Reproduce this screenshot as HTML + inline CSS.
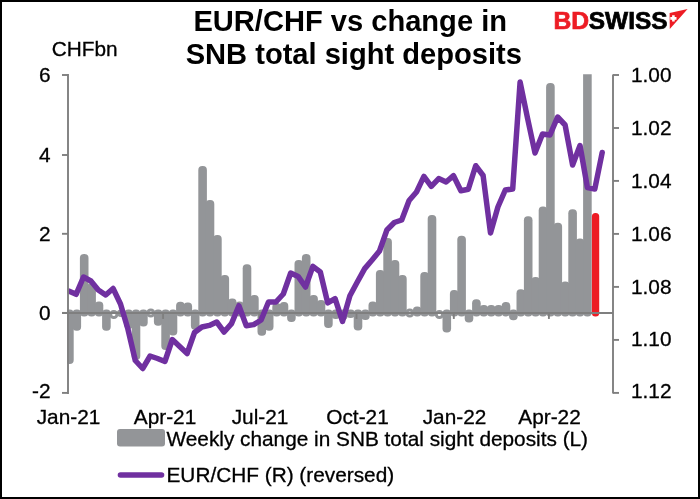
<!DOCTYPE html>
<html><head><meta charset="utf-8"><title>EUR/CHF vs change in SNB total sight deposits</title>
<style>
html,body{margin:0;padding:0;background:#fff}
body{width:700px;height:499px;overflow:hidden;font-family:"Liberation Sans",sans-serif}
svg{display:block;will-change:transform}
text{font-family:"Liberation Sans",sans-serif}
</style></head><body>
<svg width="700" height="499" viewBox="0 0 700 499">
<defs><clipPath id="pc"><rect x="67.2" y="74.2" width="546" height="320"/></clipPath></defs>
<rect x="0" y="0" width="700" height="499" fill="#000"/>
<rect x="2" y="2" width="696" height="495" fill="#fff"/>
<g font-size="29.1" font-weight="bold" fill="#000" text-anchor="middle">
<text x="350.2" y="30.5">EUR/CHF vs change in</text>
<text x="353.8" y="64.3">SNB total sight deposits</text>
</g>
<g font-size="23.5" font-weight="bold" stroke-width="0.7">
<text transform="translate(553.5,29.4) scale(1.05,1)" fill="#ED1C24" stroke="#ED1C24">BD</text>
<text transform="translate(588.8,29.4) scale(1.04,1)" fill="#000" stroke="#000">SWISS</text>
</g>
<path d="M669.6 12.9 L687.6 9 L669.8 29.1 Z" fill="#ED1C24"/>
<path d="M672.1 15.3 h2.6 v1.8 h1.8 v2.6 h-1.8 v1.8 h-2.6 v-1.8 h-1.8 v-2.6 h1.8 z" fill="#fff"/>
<g clip-path="url(#pc)">
<rect x="65.10" y="309.45" width="8.6" height="54.55" rx="4" fill="#939598"/>
<rect x="72.50" y="309.45" width="8.6" height="21.25" rx="4" fill="#939598"/>
<rect x="79.90" y="254.00" width="8.6" height="62.45" rx="4" fill="#939598"/>
<rect x="87.30" y="283.00" width="8.6" height="33.45" rx="4" fill="#939598"/>
<rect x="94.70" y="301.50" width="8.6" height="14.95" rx="4" fill="#939598"/>
<rect x="102.10" y="309.45" width="8.6" height="21.25" rx="4" fill="#939598"/>
<rect x="110.70" y="311.45" width="6.199999999999999" height="6.0" rx="3" fill="#fff" stroke="#939598" stroke-width="3.0"/>
<rect x="116.90" y="309.45" width="8.6" height="7.55" rx="4" fill="#939598"/>
<rect x="124.30" y="309.45" width="8.6" height="19.55" rx="4" fill="#939598"/>
<rect x="131.70" y="309.45" width="8.6" height="50.55" rx="4" fill="#939598"/>
<rect x="139.10" y="309.45" width="8.6" height="16.95" rx="4" fill="#939598"/>
<rect x="147.70" y="309.95" width="6.199999999999999" height="6.0" rx="3" fill="#fff" stroke="#939598" stroke-width="3.0"/>
<rect x="153.90" y="309.45" width="8.6" height="16.25" rx="4" fill="#939598"/>
<rect x="161.30" y="309.45" width="8.6" height="40.55" rx="4" fill="#939598"/>
<rect x="168.70" y="309.45" width="8.6" height="26.05" rx="4" fill="#939598"/>
<rect x="176.10" y="301.70" width="8.6" height="14.75" rx="4" fill="#939598"/>
<rect x="183.50" y="302.60" width="8.6" height="13.85" rx="4" fill="#939598"/>
<rect x="190.90" y="309.45" width="8.6" height="20.25" rx="4" fill="#939598"/>
<rect x="198.30" y="166.00" width="8.6" height="150.45" rx="4" fill="#939598"/>
<rect x="205.70" y="200.00" width="8.6" height="116.45" rx="4" fill="#939598"/>
<rect x="213.10" y="235.00" width="8.6" height="81.45" rx="4" fill="#939598"/>
<rect x="220.50" y="275.00" width="8.6" height="41.45" rx="4" fill="#939598"/>
<rect x="227.90" y="298.50" width="8.6" height="17.95" rx="4" fill="#939598"/>
<rect x="235.30" y="301.40" width="8.6" height="15.05" rx="4" fill="#939598"/>
<rect x="242.70" y="264.30" width="8.6" height="52.15" rx="4" fill="#939598"/>
<rect x="250.10" y="295.00" width="8.6" height="21.45" rx="4" fill="#939598"/>
<rect x="257.50" y="309.45" width="8.6" height="26.25" rx="4" fill="#939598"/>
<rect x="264.90" y="309.45" width="8.6" height="21.25" rx="4" fill="#939598"/>
<rect x="272.30" y="303.00" width="8.6" height="13.45" rx="4" fill="#939598"/>
<rect x="279.70" y="302.00" width="8.6" height="14.45" rx="4" fill="#939598"/>
<rect x="287.10" y="309.45" width="8.6" height="12.55" rx="4" fill="#939598"/>
<rect x="294.50" y="260.00" width="8.6" height="56.45" rx="4" fill="#939598"/>
<rect x="301.90" y="254.00" width="8.6" height="62.45" rx="4" fill="#939598"/>
<rect x="309.30" y="295.00" width="8.6" height="21.45" rx="4" fill="#939598"/>
<rect x="316.70" y="300.00" width="8.6" height="16.45" rx="4" fill="#939598"/>
<rect x="324.10" y="309.45" width="8.6" height="18.55" rx="4" fill="#939598"/>
<rect x="331.50" y="309.45" width="8.6" height="9.55" rx="4" fill="#939598"/>
<rect x="338.90" y="309.45" width="8.6" height="10.55" rx="4" fill="#939598"/>
<rect x="346.30" y="309.45" width="8.6" height="8.55" rx="4" fill="#939598"/>
<rect x="353.70" y="309.45" width="8.6" height="20.95" rx="4" fill="#939598"/>
<rect x="361.10" y="309.45" width="8.6" height="10.55" rx="4" fill="#939598"/>
<rect x="368.50" y="301.40" width="8.6" height="15.05" rx="4" fill="#939598"/>
<rect x="375.90" y="270.00" width="8.6" height="46.45" rx="4" fill="#939598"/>
<rect x="383.30" y="238.00" width="8.6" height="78.45" rx="4" fill="#939598"/>
<rect x="390.70" y="260.00" width="8.6" height="56.45" rx="4" fill="#939598"/>
<rect x="398.10" y="275.00" width="8.6" height="41.45" rx="4" fill="#939598"/>
<rect x="406.70" y="309.95" width="6.199999999999999" height="6.0" rx="3" fill="#fff" stroke="#939598" stroke-width="3.0"/>
<rect x="412.90" y="306.40" width="8.6" height="10.05" rx="4" fill="#939598"/>
<rect x="420.30" y="272.00" width="8.6" height="44.45" rx="4" fill="#939598"/>
<rect x="427.70" y="215.00" width="8.6" height="101.45" rx="4" fill="#939598"/>
<rect x="436.30" y="311.45" width="6.199999999999999" height="6.0" rx="3" fill="#fff" stroke="#939598" stroke-width="3.0"/>
<rect x="442.50" y="309.45" width="8.6" height="23.05" rx="4" fill="#939598"/>
<rect x="449.90" y="290.00" width="8.6" height="26.45" rx="4" fill="#939598"/>
<rect x="457.30" y="235.70" width="8.6" height="80.75" rx="4" fill="#939598"/>
<rect x="464.70" y="309.45" width="8.6" height="13.05" rx="4" fill="#939598"/>
<rect x="472.10" y="299.30" width="8.6" height="17.15" rx="4" fill="#939598"/>
<rect x="479.50" y="305.00" width="8.6" height="11.45" rx="4" fill="#939598"/>
<rect x="486.90" y="305.00" width="8.6" height="11.45" rx="4" fill="#939598"/>
<rect x="494.30" y="305.00" width="8.6" height="11.45" rx="4" fill="#939598"/>
<rect x="501.70" y="302.00" width="8.6" height="14.45" rx="4" fill="#939598"/>
<rect x="509.10" y="309.45" width="8.6" height="10.85" rx="4" fill="#939598"/>
<rect x="516.50" y="289.30" width="8.6" height="27.15" rx="4" fill="#939598"/>
<rect x="523.90" y="216.20" width="8.6" height="100.25" rx="4" fill="#939598"/>
<rect x="531.30" y="277.00" width="8.6" height="39.45" rx="4" fill="#939598"/>
<rect x="538.70" y="206.40" width="8.6" height="110.05" rx="4" fill="#939598"/>
<rect x="546.10" y="83.00" width="8.6" height="233.45" rx="4" fill="#939598"/>
<rect x="553.50" y="222.80" width="8.6" height="93.65" rx="4" fill="#939598"/>
<rect x="560.90" y="281.40" width="8.6" height="35.05" rx="4" fill="#939598"/>
<rect x="568.30" y="209.30" width="8.6" height="107.15" rx="4" fill="#939598"/>
<rect x="575.70" y="238.60" width="8.6" height="77.85" rx="4" fill="#939598"/>
<rect x="583.10" y="65.00" width="8.6" height="251.45" rx="4" fill="#939598"/>
<rect x="591.9" y="212.90" width="7.3" height="103.55" rx="3.5" fill="#ED1C24"/>
</g>
<line x1="62" y1="312.95" x2="613" y2="312.95" stroke="#7f7f7f" stroke-width="1.9"/>
<line x1="163.1" y1="312.95" x2="163.1" y2="318.95" stroke="#7f7f7f" stroke-width="1.9"/>
<line x1="259.3" y1="312.95" x2="259.3" y2="318.95" stroke="#7f7f7f" stroke-width="1.9"/>
<line x1="356.5" y1="312.95" x2="356.5" y2="318.95" stroke="#7f7f7f" stroke-width="1.9"/>
<line x1="453.8" y1="312.95" x2="453.8" y2="318.95" stroke="#7f7f7f" stroke-width="1.9"/>
<line x1="548.9" y1="312.95" x2="548.9" y2="318.95" stroke="#7f7f7f" stroke-width="1.9"/>
<line x1="62" y1="75.0" x2="68" y2="75.0" stroke="#7f7f7f" stroke-width="1.9"/>
<line x1="62" y1="155.0" x2="68" y2="155.0" stroke="#7f7f7f" stroke-width="1.9"/>
<line x1="62" y1="233.8" x2="68" y2="233.8" stroke="#7f7f7f" stroke-width="1.9"/>
<line x1="62" y1="312.9" x2="68" y2="312.9" stroke="#7f7f7f" stroke-width="1.9"/>
<line x1="62" y1="392.9" x2="68" y2="392.9" stroke="#7f7f7f" stroke-width="1.9"/>
<line x1="613" y1="75.0" x2="619" y2="75.0" stroke="#7f7f7f" stroke-width="1.9"/>
<line x1="613" y1="128.0" x2="619" y2="128.0" stroke="#7f7f7f" stroke-width="1.9"/>
<line x1="613" y1="180.9" x2="619" y2="180.9" stroke="#7f7f7f" stroke-width="1.9"/>
<line x1="613" y1="233.9" x2="619" y2="233.9" stroke="#7f7f7f" stroke-width="1.9"/>
<line x1="613" y1="286.9" x2="619" y2="286.9" stroke="#7f7f7f" stroke-width="1.9"/>
<line x1="613" y1="339.9" x2="619" y2="339.9" stroke="#7f7f7f" stroke-width="1.9"/>
<line x1="613" y1="392.9" x2="619" y2="392.9" stroke="#7f7f7f" stroke-width="1.9"/>
<polyline clip-path="url(#pc)" points="68.7,291 76.1,294.3 83.5,277 90.9,281 98.3,290 105.7,295 113.1,288.5 120.5,304 127.9,329 135.3,360.5 142.7,368.5 150.1,356 157.5,358.5 164.9,361.5 172.3,339.5 179.7,346.5 187.1,353.5 194.5,332.5 201.9,327 209.3,325.4 216.7,322 224.1,332 231.5,323.6 238.9,305.7 246.3,325.7 253.7,324.6 261.1,320 268.5,302 275.9,302 283.3,294 290.7,273 298.1,276.4 305.5,287 312.9,266.4 320.3,272 327.7,302.9 335.1,298.6 342.5,321.5 349.9,295.7 357.3,282 364.7,268.6 372.1,260 379.5,251 386.9,230 394.3,222.5 401.7,220 409.1,200.5 416.5,192 423.9,176.4 431.3,186.4 438.7,178.6 446.1,182 453.5,175.7 460.9,190.7 468.3,189.3 475.7,165.7 483.1,175.5 490.5,233 497.9,207 505.3,190 512.7,189 520.1,82 527.5,118 535.0,153 542.5,134 550.0,135 557.6,117 565.1,125 572.6,165 580.0,145.5 587.4,187.5 594.8,189 602.2,152.5" fill="none" stroke="#7030A0" stroke-width="5.5" stroke-linejoin="round" stroke-linecap="round"/>
<line x1="68" y1="74" x2="68" y2="393.9" stroke="#7f7f7f" stroke-width="1.9"/>
<line x1="613" y1="74.4" x2="613" y2="393.6" stroke="#7f7f7f" stroke-width="1.9"/>
<g font-size="20.8" fill="#000" stroke="#000" stroke-width="0.3">
<text x="50.5" y="81.5" text-anchor="end">6</text>
<text x="50.5" y="161.8" text-anchor="end">4</text>
<text x="50.5" y="240.7" text-anchor="end">2</text>
<text x="50.5" y="320.1" text-anchor="end">0</text>
<text x="50.5" y="397.9" text-anchor="end">-2</text>
<text x="631" y="81.5">1.00</text>
<text x="631" y="134.8">1.02</text>
<text x="631" y="187.8">1.04</text>
<text x="631" y="240.8">1.06</text>
<text x="631" y="293.8">1.08</text>
<text x="631" y="346.4">1.10</text>
<text x="631" y="397.9">1.12</text>
<text x="68.5" y="423.6" text-anchor="middle">Jan-21</text>
<text x="165" y="423.6" text-anchor="middle">Apr-21</text>
<text x="260" y="423.6" text-anchor="middle">Jul-21</text>
<text x="357.5" y="423.6" text-anchor="middle">Oct-21</text>
<text x="454.5" y="423.6" text-anchor="middle">Jan-22</text>
<text x="549.5" y="423.6" text-anchor="middle">Apr-22</text>
<text x="51.8" y="56.1">CHFbn</text>
<rect x="117" y="429" width="48" height="17.6" rx="3" fill="#939598" stroke="none"/>
<text x="166.5" y="445.6">Weekly change in SNB total sight deposits (L)</text>
<line x1="120.5" y1="475" x2="161.5" y2="475" stroke="#7030A0" stroke-width="5.6" stroke-linecap="round"/>
<text x="166.5" y="481.6">EUR/CHF (R) (reversed)</text>
</g>
</svg>
</body></html>
